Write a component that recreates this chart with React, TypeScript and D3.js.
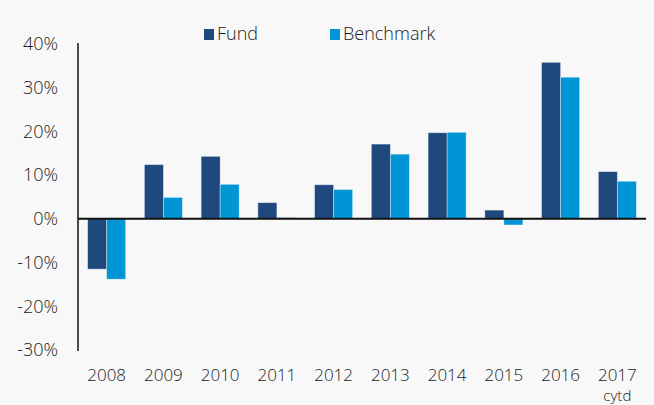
import * as d3 from 'd3';

const years = ['2008', '2009', '2010', '2011', '2012', '2013', '2014', '2015', '2016', '2017'];
const yearSub = ['', '', '', '', '', '', '', '', '', 'cytd'];
const fund = [-11.5, 12.4, 14.3, 3.7, 7.8, 17.1, 19.7, 2.0, 35.8, 10.8];
const benchmark = [-13.8, 4.9, 7.9, 0.3, 6.7, 14.8, 19.8, -1.4, 32.4, 8.6];
const yTicks = [40, 30, 20, 10, 0, -10, -20, -30];
const seriesNames = ['Fund', 'Benchmark'];
const colors = ['#1f497d', '#0096d6'];

const W = 654;
const H = 405;
const FONT = "'Open Sans', sans-serif";

export default function App() {
  const margin = { top: 44, right: 8, bottom: 55, left: 78 };

  const x = d3.scaleBand<string>()
    .domain(years)
    .range([margin.left, W - margin.right])
    .paddingInner(0.33)
    .paddingOuter(0.17);

  const inner = d3.scaleBand<string>()
    .domain(seriesNames)
    .range([0, x.bandwidth()]);

  const y = d3.scaleLinear()
    .domain([-30, 40])
    .range([H - margin.bottom, margin.top]);

  const rows = years.map((yr, i) => ({ yr, values: [fund[i], benchmark[i]] }));

  return (
    <svg width={W} height={H} style={{ position: 'absolute', left: 0, top: 0, background: '#f8f8f8' }}>
      <rect width={W} height={H} fill="#f8f8f8" />

      {/* y tick labels */}
      {yTicks.map(t => (
        <text key={t} x={58} y={y(t)} dy="0.35em" textAnchor="end"
          fontFamily={FONT} fontWeight={300} fontSize={18} fill="#1a1a1a">{`${t}%`}</text>
      ))}

      {/* bars */}
      {rows.map(r => (
        <g key={r.yr} transform={`translate(${x(r.yr)},0)`}>
          {r.values.map((v, j) => (
            <rect key={j}
              x={inner(seriesNames[j])}
              y={y(Math.max(0, v))}
              width={inner.bandwidth()}
              height={Math.abs(y(v) - y(0))}
              fill={colors[j]}
              stroke="#ffffff" strokeOpacity={0.45} strokeWidth={0.8} />
          ))}
        </g>
      ))}

      {/* axes */}
      <line x1={margin.left} x2={margin.left} y1={y(40) - 1} y2={y(-30) + 1} stroke="#111" strokeWidth={1.5} />
      <line x1={margin.left} x2={W - margin.right} y1={y(0)} y2={y(0)} stroke="#111" strokeWidth={2} />

      {/* x labels */}
      {years.map((yr, i) => (
        <g key={yr}>
          <text x={(x(yr) ?? 0) + x.bandwidth() / 2} y={381} textAnchor="middle"
            fontFamily={FONT} fontWeight={300} fontSize={17} fill="#1a1a1a">{yr}</text>
          {yearSub[i] && (
            <text x={(x(yr) ?? 0) + x.bandwidth() / 2} y={401} textAnchor="middle"
              fontFamily={FONT} fontWeight={300} fontSize={15} fill="#1a1a1a">{yearSub[i]}</text>
          )}
        </g>
      ))}

      {/* legend */}
      {seriesNames.map((s, i) => {
        const lx = [204, 330][i];
        return (
          <g key={s}>
            <rect x={lx} y={29} width={10} height={11} fill={colors[i]} />
            <text x={lx + 13} y={40} fontFamily={FONT} fontWeight={300} fontSize={18} fill="#1a1a1a">{s}</text>
          </g>
        );
      })}
    </svg>
  );
}
